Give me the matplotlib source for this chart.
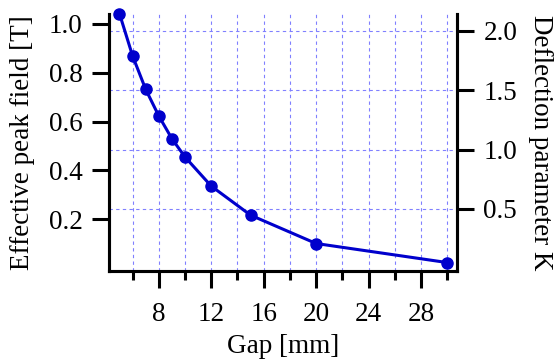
import numpy as np
import matplotlib
matplotlib.use('Agg')
import matplotlib.pyplot as plt
from matplotlib.ticker import MultipleLocator

plt.rcParams['font.family'] = ['Liberation Serif', 'DejaVu Serif']
plt.rcParams['mathtext.fontset'] = 'stix'

# 데이터
gap_mm = [5, 6, 7, 8, 9, 10, 12, 15, 20, 30]
peak_field = [1.042, 0.869, 0.732, 0.623, 0.530, 0.455, 0.336, 0.217, 0.101, 0.023]
k_per_tesla = 2.06   # K = 0.934 * B * lambda_u[cm]

line_col = '#0000cc'
grid_col = '#8080ff'
fs = 19.5

fig = plt.figure(figsize=(5.56, 3.61), dpi=100)
ax1 = fig.add_axes([0.196, 0.249, 0.626, 0.712])
ax2 = ax1.twinx()

ax1.plot(gap_mm, peak_field, '-o', color=line_col, lw=2.2, ms=8, zorder=5, clip_on=False)

ax1.set_xlim(4.2, 30.75)
ax1.set_ylim(-0.012, 1.04)
lo, hi = ax1.get_ylim()
ax2.set_ylim(lo * k_per_tesla, hi * k_per_tesla)

ax1.xaxis.set_minor_locator(MultipleLocator(2))
ax1.set_xticks([8, 12, 16, 20, 24, 28])
ax1.set_yticks([0.2, 0.4, 0.6, 0.8, 1.0])
ax2.set_yticks([0.5, 1.0, 1.5, 2.0])

# 격자: x는 2 간격, y는 보조축 눈금 기준
ax1.grid(True, which='both', axis='x', ls=(0, (3, 3)), color=grid_col, lw=0.8)
ax2.grid(True, axis='y', ls=(0, (3, 3)), color=grid_col, lw=0.8)
ax1.set_zorder(ax2.get_zorder() + 1)
ax1.patch.set_visible(False)

for ax in (ax1, ax2):
    for s in ax.spines.values():
        s.set_linewidth(2.2)
    ax.spines['top'].set_visible(False)
    ax.tick_params(which='major', direction='out', length=12, width=2.2, labelsize=fs, pad=7)
    ax.tick_params(which='minor', direction='out', length=6.5, width=2.2)
ax1.tick_params(axis='x', which='major', pad=10)

ax1.set_xlabel('Gap [mm]', fontsize=fs, labelpad=5)
ax1.set_ylabel('Effective peak field [T]', fontsize=fs, labelpad=10)
ax2.set_ylabel('Deflection parameter K', fontsize=fs, rotation=270, labelpad=26)

fig.savefig('out.png', dpi=100)
